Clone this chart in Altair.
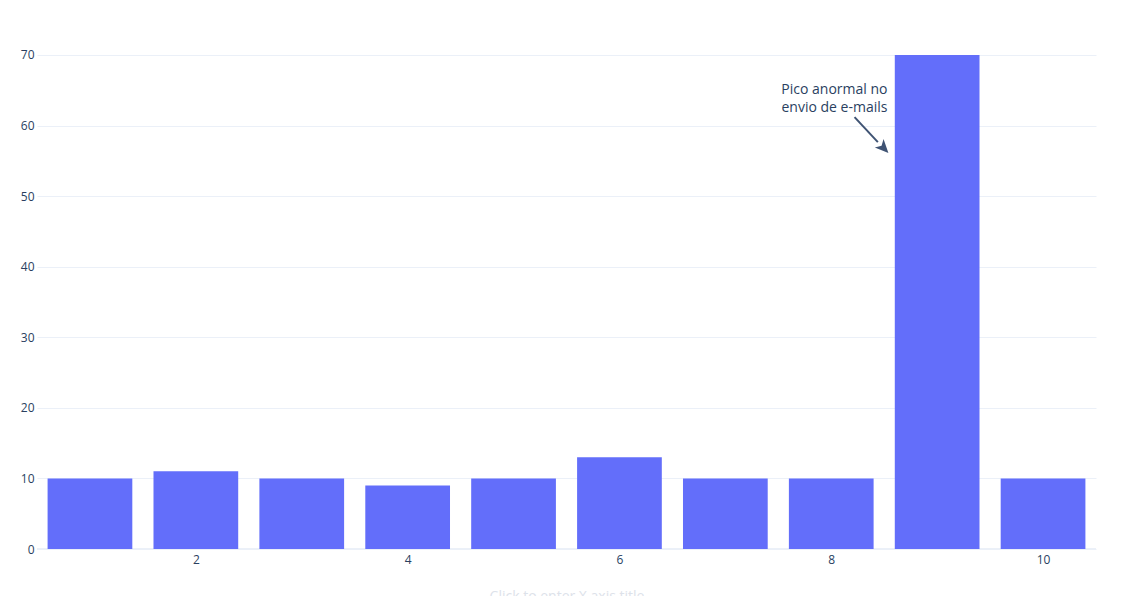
import altair as alt
import pandas as pd

categories = [1, 2, 3, 4, 5, 6, 7, 8, 9, 10]
values = [10, 11, 10, 9, 10, 13, 10, 10, 70, 10]

annot_text = ["Pico anormal no", "envio de e-mails"]
annot_x = 8.03
annot_y = 65.0
arrow_tail = (8.22, 61.2)
arrow_head = (8.49, 56.9)

FONT = "Open Sans"
TXT = "#2a3f5f"

bars_df = pd.DataFrame({"x": categories, "y": values})
xscale = alt.Scale(domain=[0.5, 10.5], nice=False, zero=False, padding=0)
yscale = alt.Scale(domain=[0, 73.68], nice=False, padding=0)

bars = alt.Chart(bars_df).transform_calculate(
    x0="datum.x - 0.4", x1="datum.x + 0.4", base="0"
).mark_bar(color="#636efa", orient="vertical").encode(
    x=alt.X("x0:Q", scale=xscale, axis=alt.Axis(
        values=[2, 4, 6, 8, 10], format="d", grid=False, domain=False, ticks=False,
        labelPadding=5, labelFont=FONT, labelFontSize=12, labelColor=TXT,
        title="Click to enter X axis title", titleFont=FONT, titleFontSize=14,
        titleColor="#dde2ea", titleFontWeight="normal", titlePadding=24)),
    x2="x1:Q",
    y=alt.Y("y:Q", scale=yscale, axis=alt.Axis(
        values=[0, 10, 20, 30, 40, 50, 60, 70], format="d", grid=True, gridColor="#ebf0f8",
        domain=False, ticks=False, labelPadding=3, labelFont=FONT,
        labelFontSize=12, labelColor=TXT, title=None)),
    y2="base:Q",
)

zero = alt.Chart(pd.DataFrame({"y": [0]})).mark_rule(color="#ebf0f8", strokeWidth=2).encode(
    y=alt.Y("y:Q", scale=yscale)
)

text_df = pd.DataFrame({"x": [annot_x], "y": [annot_y], "t": ["\n".join(annot_text)]})
text = alt.Chart(text_df).mark_text(
    font=FONT, fontSize=14, color=TXT, align="center", baseline="middle",
    lineBreak="\n", lineHeight=18
).encode(x=alt.X("x:Q", scale=xscale), y=alt.Y("y:Q", scale=yscale), text="t:N")

arrow_df = pd.DataFrame({"x": [arrow_tail[0]], "y": [arrow_tail[1]],
                         "x2": [arrow_head[0] - 0.05], "y2": [arrow_head[1] + 0.75]})
arrow_line = alt.Chart(arrow_df).mark_rule(color="#3f5373", strokeWidth=2).encode(
    x=alt.X("x:Q", scale=xscale), y=alt.Y("y:Q", scale=yscale),
    x2="x2:Q", y2="y2:Q")

head_df = pd.DataFrame({"x": [arrow_head[0]], "y": [arrow_head[1]]})
arrow_head_mark = alt.Chart(head_df).mark_point(
    shape="M0,-1 L0.8,0.75 L0,0.3 L-0.8,0.75 Z", filled=True, color="#3f5373",
    size=230, angle=136, opacity=1
).encode(x=alt.X("x:Q", scale=xscale), y=alt.Y("y:Q", scale=yscale))

chart = alt.layer(zero, bars, text, arrow_line, arrow_head_mark).properties(
    width=1059, height=520,
    background="white",
    autosize=alt.AutoSizeParams(type="none"),
    padding={"left": 37, "top": 29, "right": 46, "bottom": 47},
).configure_view(strokeWidth=0, stroke=None)

chart.save("out.html", embed_options={"renderer": "svg", "actions": False})
